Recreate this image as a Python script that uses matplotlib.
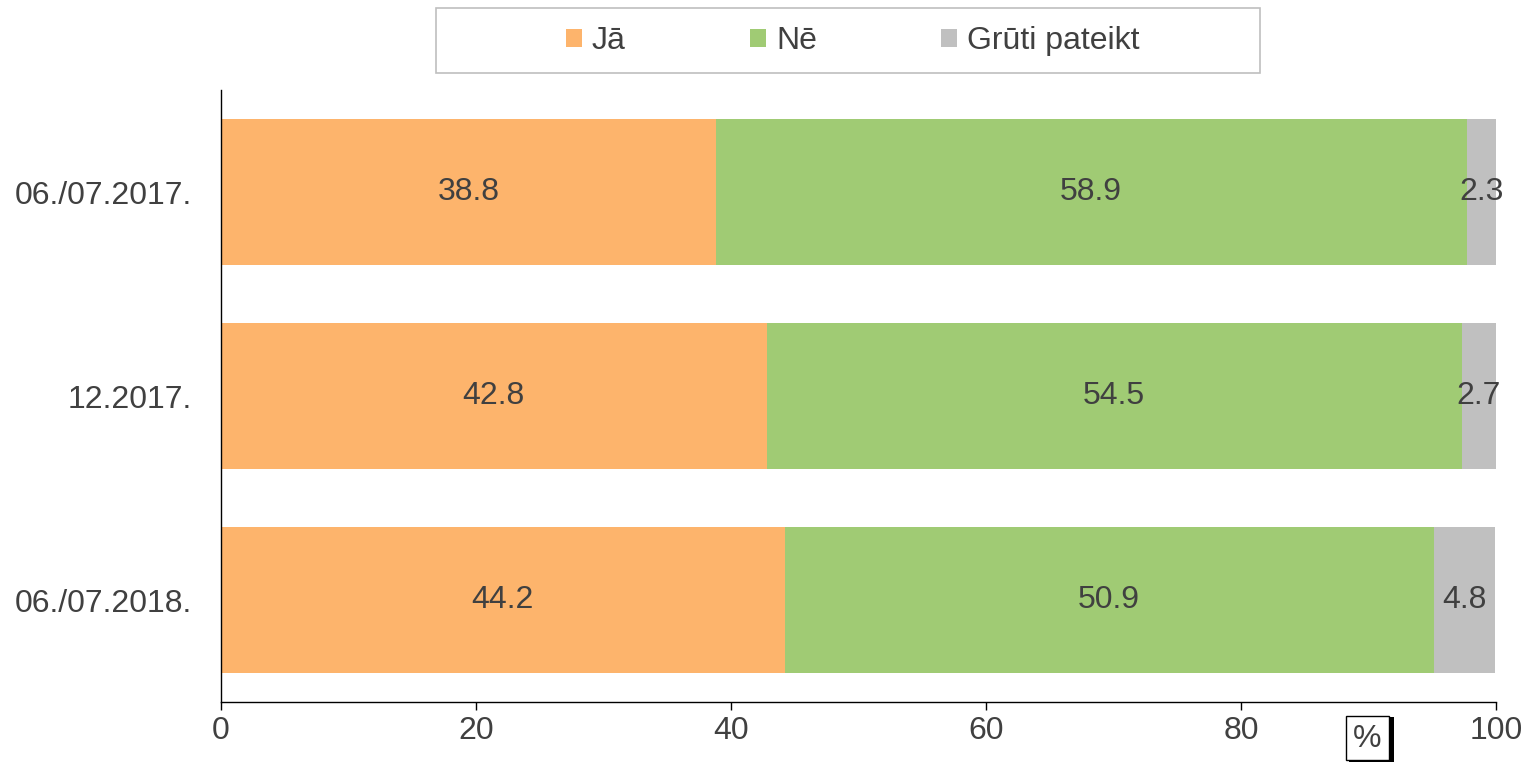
import numpy as np
import matplotlib.pyplot as plt
from matplotlib.patches import Rectangle

# dati
periods = ["06./07.2017.", "12.2017.", "06./07.2018."]
ja = [38.8, 42.8, 44.2]
ne = [58.9, 54.5, 50.9]
gruti = [2.3, 2.7, 4.8]

series = [("Jā", ja, "#FDB46C"), ("Nē", ne, "#A0CB74"), ("Grūti pateikt", gruti, "#C0C0C0")]
text_color = "#404040"
fs = 23

plt.rcParams['font.family'] = ['Liberation Sans', 'DejaVu Sans']

fig = plt.figure(figsize=(15.27, 7.62), dpi=100)
ax = fig.add_axes([221 / 1527, 60 / 762, 1275 / 1527, 612 / 762])

y = np.arange(len(periods))
left = np.zeros(len(periods))
for name, vals, col in series:
    vals = np.array(vals)
    ax.barh(y, vals, left=left, height=0.72, color=col, label=name)
    for yi, l, v in zip(y, left, vals):
        ax.text(l + v / 2, yi, f"{v:.1f}", ha="center", va="center",
                fontsize=fs, color=text_color)
    left += vals

ax.set_ylim(2.5, -0.5)
ax.set_xlim(0, 100)
ax.set_xticks([0, 20, 40, 60, 80, 100])
ax.set_yticks(y)
ax.set_yticklabels(periods)
ax.tick_params(axis="x", labelsize=fs, colors="black", labelcolor=text_color,
               length=6, width=1, direction="out", pad=4)
ax.tick_params(axis="y", labelsize=fs, labelcolor=text_color, length=0, pad=21)
for s in ["top", "right"]:
    ax.spines[s].set_visible(False)
for s in ["left", "bottom"]:
    ax.spines[s].set_color("black")
    ax.spines[s].set_linewidth(1)

# leģendas rāmis
fig.patches.append(Rectangle((436 / 1527, 1 - 73 / 762), 824 / 1527, 65 / 762,
                             transform=fig.transFigure, facecolor="none",
                             edgecolor="#BFBFBF", linewidth=1.2, zorder=-1))
leg = ax.legend(loc="center", bbox_to_anchor=(853 / 1527, 1 - 41 / 762),
                bbox_transform=fig.transFigure, ncol=3, fontsize=fs, frameon=False,
                handlelength=0.5, handleheight=0.5, handletextpad=0.3,
                columnspacing=3.9, labelcolor=text_color)

# "%" kastīte ar ēnu
fig.patches.append(Rectangle((1349 / 1527, 1 - 762 / 762), 45 / 1527, 45 / 762,
                             transform=fig.transFigure, facecolor="black", edgecolor="none"))
fig.patches.append(Rectangle((1346 / 1527, 1 - 760 / 762), 43 / 1527, 44 / 762,
                             transform=fig.transFigure, facecolor="white", edgecolor="black",
                             linewidth=1))
fig.text(1367 / 1527, 1 - 739 / 762, "%", ha="center", va="center", fontsize=fs, color=text_color)

fig.savefig("out.png", dpi=100)
